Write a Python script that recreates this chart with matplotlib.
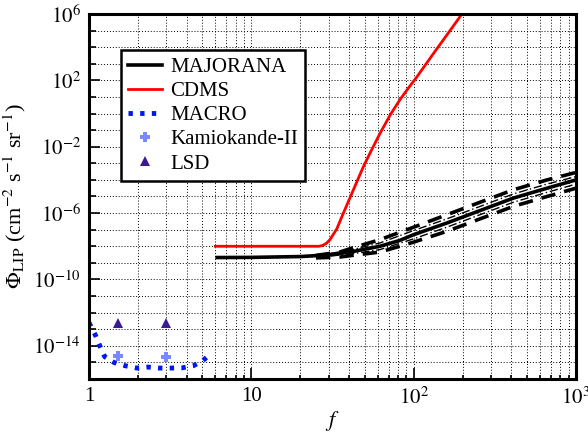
import numpy as np
import matplotlib
matplotlib.use("Agg")
import matplotlib.pyplot as plt
from matplotlib.lines import Line2D
from matplotlib.ticker import FixedLocator, FuncFormatter, NullFormatter

plt.rcParams['font.family'] = 'serif'
plt.rcParams['font.serif'] = ['Liberation Serif', 'DejaVu Serif']
plt.rcParams['mathtext.fontset'] = 'stix'

# ---- data (log10 of flux) ----
maj_f = [6, 10, 20, 30, 42, 62, 82, 100, 160, 256, 410, 663, 1000]
maj_logphi = [-8.68, -8.67, -8.62, -8.52, -8.32, -8.0, -7.65, -7.3, -6.6, -5.85, -5.1, -4.5, -4.0]

maj_dash_f = [25, 35, 42, 62, 100, 160, 256, 410, 663, 1000]
maj_dash_up = [-8.55, -8.35, -8.1, -7.6, -6.85, -6.1, -5.35, -4.6, -4.0, -3.55]
maj_dash_lo = [-8.7, -8.65, -8.55, -8.35, -7.75, -7.1, -6.35, -5.6, -5.0, -4.5]

maj_dd_f = [20, 30, 42, 62, 100, 160, 256, 410, 663, 1000]
maj_dd_up = [-8.62, -8.45, -8.2, -7.8, -7.05, -6.35, -5.6, -4.85, -4.25, -3.8]
maj_dd_lo = [-8.65, -8.6, -8.45, -8.2, -7.55, -6.85, -6.1, -5.35, -4.75, -4.25]

cdms_f = [6, 26, 27.5, 29, 30.5, 33.6, 36.9, 42, 49, 55, 62, 72, 82.5, 93, 104.5,
          132, 160, 193, 200]
cdms_logphi = [-8.0, -8.0, -7.95, -7.82, -7.6, -6.95, -6.0, -4.72, -3.2, -2.2, -1.2,
               -0.05, 0.85, 1.55, 2.2, 3.6, 4.73, 5.84, 6.1]

macro_f = [1.0, 1.1, 1.17, 1.25, 1.43, 1.67, 1.97, 2.3, 2.7, 3.19, 3.73, 4.39, 5.02, 5.5]
macro_logphi = [-12.6, -13.4, -14.04, -14.66, -15.01, -15.2, -15.34, -15.28, -15.34,
                -15.34, -15.33, -15.2, -14.9, -14.55]

kam_f = [1.5, 3.0]
kam_logphi = [-14.6, -14.7]

lsd_f = [1.5, 3.0]
lsd_logphi = [-12.6, -12.6]

y_major = [-14, -10, -6, -2, 2, 6]
x_major = [1, 10, 100, 1000]
x_labels = ['1', '10', r'$10^2$', r'$10^3$']

def p(v):
    return 10.0 ** np.asarray(v)

fig = plt.figure(figsize=(5.88, 4.33), dpi=100)
ax = fig.add_axes([0.1514, 0.1247, 0.9796 - 0.1514, 0.9677 - 0.1247])
ax.set_xscale('log')
ax.set_yscale('log')
ax.set_xlim(1, 1000)
ax.set_ylim(1e-16, 1e6)

# grid
ax.grid(True, which='both', axis='both', linestyle=(0, (1, 2)), color='black', linewidth=0.7)

# MAJORANA band lines
ax.plot(maj_dd_f, p(maj_dd_up), color='black', lw=1.0, linestyle=(0, (6, 2, 1, 2)))
ax.plot(maj_dd_f, p(maj_dd_lo), color='black', lw=1.0, linestyle=(0, (6, 2, 1, 2)))
ax.plot(maj_dash_f, p(maj_dash_up), color='black', lw=2.6, linestyle=(0, (4, 2.5)))
ax.plot(maj_dash_f, p(maj_dash_lo), color='black', lw=2.6, linestyle=(0, (4, 2.5)))
ax.plot(maj_f, p(maj_logphi), color='black', lw=2.6, solid_capstyle='butt')

# CDMS
ax.plot(cdms_f, p(cdms_logphi), color='#ff0000', lw=2.0)

# MACRO
ax.plot(macro_f, p(macro_logphi), color='#0018f0', lw=3.5, linestyle=(0, (0.9, 1.5)))

# Kamiokande-II and LSD
ax.plot(kam_f, p(kam_logphi), linestyle='none', marker='P', markersize=7,
        color='#7a88ff', markeredgewidth=0)
ax.plot(lsd_f, p(lsd_logphi), linestyle='none', marker='^', markersize=7,
        color='#3a1a8f', markeredgewidth=0)

# ticks
ax.yaxis.set_major_locator(FixedLocator([10.0 ** e for e in y_major]))
ax.yaxis.set_minor_locator(FixedLocator([10.0 ** e for e in range(-16, 7)]))
ax.yaxis.set_major_formatter(FuncFormatter(lambda v, pos: r'$10^{%d}$' % int(round(np.log10(v)))))
ax.yaxis.set_minor_formatter(NullFormatter())
ax.xaxis.set_major_locator(FixedLocator(x_major))
ax.xaxis.set_major_formatter(FuncFormatter(lambda v, pos: x_labels[x_major.index(int(round(v)))]))
ax.xaxis.set_minor_formatter(NullFormatter())

ax.tick_params(which='both', direction='in', top=False, right=False, labelsize=15, width=1.2)
ax.tick_params(which='major', length=8, pad=6)
ax.tick_params(which='minor', length=5)
ax.tick_params(axis='x', which='minor', length=3)

for s in ax.spines.values():
    s.set_linewidth(2.2)

ax.set_xlabel(r'$f$', fontsize=16, labelpad=0)
ax.set_ylabel(r'$\Phi_{\rm LIP}$ (cm$^{-2}$ s$^{-1}$ sr$^{-1}$)', fontsize=16, labelpad=4)

handles = [
    Line2D([], [], color='black', lw=2.6),
    Line2D([], [], color='#ff0000', lw=2.0),
    Line2D([], [], color='#0018f0', lw=3.5, linestyle=(0, (0.9, 1.5))),
    Line2D([], [], linestyle='none', marker='P', markersize=7, color='#7a88ff', markeredgewidth=0),
    Line2D([], [], linestyle='none', marker='^', markersize=7, color='#3a1a8f', markeredgewidth=0),
]
labels = ['MAJORANA', 'CDMS', 'MACRO', 'Kamiokande-II', 'LSD']
leg = ax.legend(handles, labels, loc='upper left', bbox_to_anchor=(0.066, 0.901),
                fontsize=15, frameon=True, fancybox=False, framealpha=1,
                edgecolor='black', handlelength=1.6, handletextpad=0.4,
                labelspacing=0.22, borderpad=0.35, borderaxespad=0)
leg.get_frame().set_linewidth(1.8)

fig.savefig('out.png', dpi=100)
